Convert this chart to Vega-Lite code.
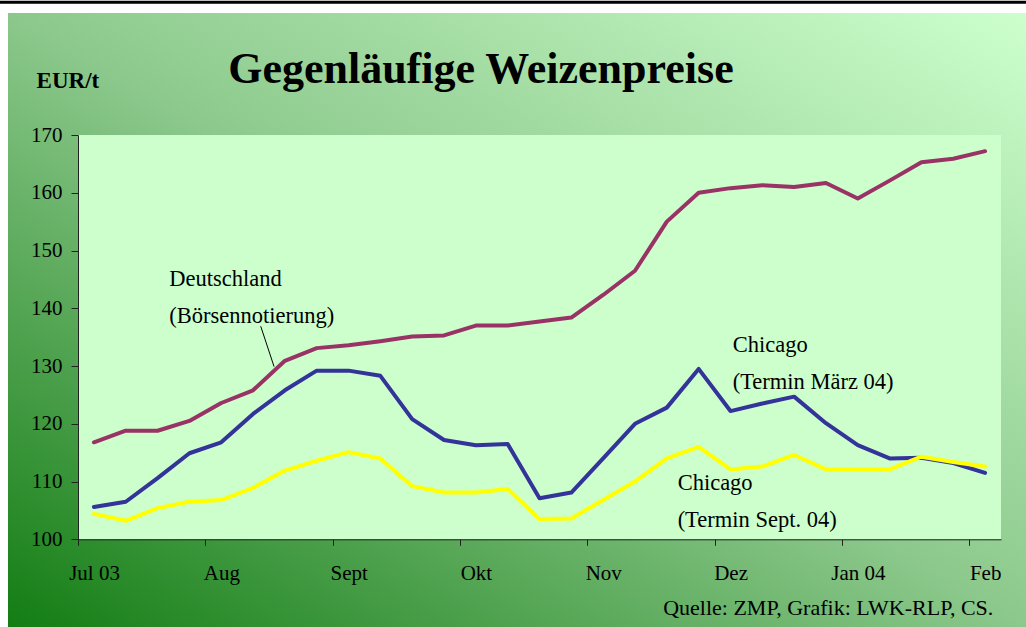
{
  "$schema": "https://vega.github.io/schema/vega-lite/v6.json",
  "width": 1018,
  "height": 614,
  "autosize": {"type": "none"},
  "padding": {"left": 8, "top": 13, "right": 0, "bottom": 0},
  "background": "white",
  "config": {
    "view": {
      "fill": {"gradient": "linear", "x1": 0, "y1": 1, "x2": 1, "y2": 0,
        "stops": [{"offset": 0, "color": "#137d13"}, {"offset": 0.5, "color": "#8cc88c"}, {"offset": 1, "color": "#ccffcc"}]},
      "stroke": null
    },
    "font": "Liberation Serif",
    "text": {"font": "Liberation Serif", "color": "black"}
  },
  "layer": [
    {
      "data": {"values": [{}]},
      "mark": {"type": "rect", "fill": "#ccffcc"},
      "encoding": {
        "x": {"datum": -0.5, "type": "quantitative"},
        "x2": {"datum": 28.5},
        "y": {"datum": 100, "type": "quantitative"},
        "y2": {"datum": 170}
      }
    },
    {
      "data": {"values": [
        {"woche": 0, "reihe": "Deutschland", "preis": 116.8},
        {"woche": 1, "reihe": "Deutschland", "preis": 118.8},
        {"woche": 2, "reihe": "Deutschland", "preis": 118.8},
        {"woche": 3, "reihe": "Deutschland", "preis": 120.5},
        {"woche": 4, "reihe": "Deutschland", "preis": 123.6},
        {"woche": 5, "reihe": "Deutschland", "preis": 125.8},
        {"woche": 6, "reihe": "Deutschland", "preis": 130.9},
        {"woche": 7, "reihe": "Deutschland", "preis": 133.1},
        {"woche": 8, "reihe": "Deutschland", "preis": 133.6},
        {"woche": 9, "reihe": "Deutschland", "preis": 134.3},
        {"woche": 10, "reihe": "Deutschland", "preis": 135.1},
        {"woche": 11, "reihe": "Deutschland", "preis": 135.3},
        {"woche": 12, "reihe": "Deutschland", "preis": 137.0},
        {"woche": 13, "reihe": "Deutschland", "preis": 137.0},
        {"woche": 14, "reihe": "Deutschland", "preis": 137.7},
        {"woche": 15, "reihe": "Deutschland", "preis": 138.4},
        {"woche": 16, "reihe": "Deutschland", "preis": 142.3},
        {"woche": 17, "reihe": "Deutschland", "preis": 146.5},
        {"woche": 18, "reihe": "Deutschland", "preis": 155.0},
        {"woche": 19, "reihe": "Deutschland", "preis": 160.0},
        {"woche": 20, "reihe": "Deutschland", "preis": 160.8},
        {"woche": 21, "reihe": "Deutschland", "preis": 161.3},
        {"woche": 22, "reihe": "Deutschland", "preis": 161.0},
        {"woche": 23, "reihe": "Deutschland", "preis": 161.7},
        {"woche": 24, "reihe": "Deutschland", "preis": 159.0},
        {"woche": 25, "reihe": "Deutschland", "preis": 162.1},
        {"woche": 26, "reihe": "Deutschland", "preis": 165.3},
        {"woche": 27, "reihe": "Deutschland", "preis": 165.9},
        {"woche": 28, "reihe": "Deutschland", "preis": 167.2},
        {"woche": 0, "reihe": "Chicago Termin März 04", "preis": 105.6},
        {"woche": 1, "reihe": "Chicago Termin März 04", "preis": 106.5},
        {"woche": 2, "reihe": "Chicago Termin März 04", "preis": 110.6},
        {"woche": 3, "reihe": "Chicago Termin März 04", "preis": 114.9},
        {"woche": 4, "reihe": "Chicago Termin März 04", "preis": 116.8},
        {"woche": 5, "reihe": "Chicago Termin März 04", "preis": 121.7},
        {"woche": 6, "reihe": "Chicago Termin März 04", "preis": 125.8},
        {"woche": 7, "reihe": "Chicago Termin März 04", "preis": 129.2},
        {"woche": 8, "reihe": "Chicago Termin März 04", "preis": 129.2},
        {"woche": 9, "reihe": "Chicago Termin März 04", "preis": 128.3},
        {"woche": 10, "reihe": "Chicago Termin März 04", "preis": 120.8},
        {"woche": 11, "reihe": "Chicago Termin März 04", "preis": 117.2},
        {"woche": 12, "reihe": "Chicago Termin März 04", "preis": 116.3},
        {"woche": 13, "reihe": "Chicago Termin März 04", "preis": 116.5},
        {"woche": 14, "reihe": "Chicago Termin März 04", "preis": 107.1},
        {"woche": 15, "reihe": "Chicago Termin März 04", "preis": 108.1},
        {"woche": 16, "reihe": "Chicago Termin März 04", "preis": 114.0},
        {"woche": 17, "reihe": "Chicago Termin März 04", "preis": 120.0},
        {"woche": 18, "reihe": "Chicago Termin März 04", "preis": 122.8},
        {"woche": 19, "reihe": "Chicago Termin März 04", "preis": 129.5},
        {"woche": 20, "reihe": "Chicago Termin März 04", "preis": 122.2},
        {"woche": 21, "reihe": "Chicago Termin März 04", "preis": 123.5},
        {"woche": 22, "reihe": "Chicago Termin März 04", "preis": 124.7},
        {"woche": 23, "reihe": "Chicago Termin März 04", "preis": 120.1},
        {"woche": 24, "reihe": "Chicago Termin März 04", "preis": 116.3},
        {"woche": 25, "reihe": "Chicago Termin März 04", "preis": 114.0},
        {"woche": 26, "reihe": "Chicago Termin März 04", "preis": 114.1},
        {"woche": 27, "reihe": "Chicago Termin März 04", "preis": 113.2},
        {"woche": 28, "reihe": "Chicago Termin März 04", "preis": 111.5},
        {"woche": 0, "reihe": "Chicago Termin Sept. 04", "preis": 104.4},
        {"woche": 1, "reihe": "Chicago Termin Sept. 04", "preis": 103.2},
        {"woche": 2, "reihe": "Chicago Termin Sept. 04", "preis": 105.4},
        {"woche": 3, "reihe": "Chicago Termin Sept. 04", "preis": 106.5},
        {"woche": 4, "reihe": "Chicago Termin Sept. 04", "preis": 106.8},
        {"woche": 5, "reihe": "Chicago Termin Sept. 04", "preis": 108.9},
        {"woche": 6, "reihe": "Chicago Termin Sept. 04", "preis": 111.9},
        {"woche": 7, "reihe": "Chicago Termin Sept. 04", "preis": 113.6},
        {"woche": 8, "reihe": "Chicago Termin Sept. 04", "preis": 115.1},
        {"woche": 9, "reihe": "Chicago Termin Sept. 04", "preis": 114.0},
        {"woche": 10, "reihe": "Chicago Termin Sept. 04", "preis": 109.2},
        {"woche": 11, "reihe": "Chicago Termin Sept. 04", "preis": 108.1},
        {"woche": 12, "reihe": "Chicago Termin Sept. 04", "preis": 108.1},
        {"woche": 13, "reihe": "Chicago Termin Sept. 04", "preis": 108.7},
        {"woche": 14, "reihe": "Chicago Termin Sept. 04", "preis": 103.5},
        {"woche": 15, "reihe": "Chicago Termin Sept. 04", "preis": 103.6},
        {"woche": 16, "reihe": "Chicago Termin Sept. 04", "preis": 106.8},
        {"woche": 17, "reihe": "Chicago Termin Sept. 04", "preis": 110.0},
        {"woche": 18, "reihe": "Chicago Termin Sept. 04", "preis": 114.0},
        {"woche": 19, "reihe": "Chicago Termin Sept. 04", "preis": 116.0},
        {"woche": 20, "reihe": "Chicago Termin Sept. 04", "preis": 112.1},
        {"woche": 21, "reihe": "Chicago Termin Sept. 04", "preis": 112.6},
        {"woche": 22, "reihe": "Chicago Termin Sept. 04", "preis": 114.6},
        {"woche": 23, "reihe": "Chicago Termin Sept. 04", "preis": 112.1},
        {"woche": 24, "reihe": "Chicago Termin Sept. 04", "preis": 112.1},
        {"woche": 25, "reihe": "Chicago Termin Sept. 04", "preis": 112.1},
        {"woche": 26, "reihe": "Chicago Termin Sept. 04", "preis": 114.3},
        {"woche": 27, "reihe": "Chicago Termin Sept. 04", "preis": 113.4},
        {"woche": 28, "reihe": "Chicago Termin Sept. 04", "preis": 112.6}
      ]},
      "mark": {"type": "line", "strokeWidth": 4, "strokeJoin": "round", "strokeCap": "round"},
      "encoding": {
        "x": {
          "field": "woche", "type": "quantitative",
          "scale": {"domain": [-0.5, 28.5], "range": [70, 993], "nice": false, "zero": false},
          "axis": {
            "values": [-0.5, 3.5, 7.5, 11.5, 15.5, 19.5, 23.5, 27.5],
            "labelExpr": "['Jul 03','Aug','Sept','Okt','Nov','Dez','Jan 04','Feb'][round((datum.value + 0.5) / 4)]",
            "labelOffset": 16, "offset": -87.7, "tickSize": 6, "labelPadding": 17,
            "labelFontSize": 21, "labelFont": "Liberation Serif", "labelColor": "black",
            "domainColor": "#222222", "tickColor": "#222222", "grid": false, "title": null,
            "zindex": 1, "labelFlush": false, "labelOverlap": false
          }
        },
        "y": {
          "field": "preis", "type": "quantitative",
          "scale": {"domain": [100, 170], "range": [526.3, 122], "nice": false, "zero": false},
          "axis": {
            "values": [100, 110, 120, 130, 140, 150, 160, 170],
            "offset": -70, "tickSize": 7, "labelPadding": 9,
            "labelFontSize": 21, "labelFont": "Liberation Serif", "labelColor": "black",
            "domainColor": "#222222", "tickColor": "#222222", "grid": false, "title": null,
            "zindex": 1, "labelFlush": false, "labelOverlap": false
          }
        },
        "color": {
          "field": "reihe", "type": "nominal",
          "scale": {"domain": ["Deutschland", "Chicago Termin März 04", "Chicago Termin Sept. 04"], "range": ["#993366", "#333399", "#ffff00"]},
          "legend": null
        }
      }
    },
    {
      "data": {"values": [{}]},
      "mark": {"type": "rule", "color": "black", "strokeWidth": 1},
      "encoding": {
        "x": {"datum": 5.24, "type": "quantitative"},
        "x2": {"datum": 5.66},
        "y": {"datum": 136.9, "type": "quantitative"},
        "y2": {"datum": 129.9}
      }
    },
    {
      "data": {"values": [{}]},
      "mark": {"type": "rule", "color": "black", "strokeWidth": 3, "clip": false},
      "encoding": {
        "x": {"datum": -3.2, "type": "quantitative"},
        "x2": {"datum": 29.5},
        "y": {"datum": 193.0, "type": "quantitative"}
      }
    },
    {
      "data": {"values": [{}]},
      "mark": {"type": "text", "text": "Gegenläufige Weizenpreise", "align": "center", "baseline": "alphabetic", "fontSize": 44, "fontWeight": "bold", "font": "Liberation Serif", "color": "black", "clip": false},
      "encoding": {"x": {"datum": 12.16, "type": "quantitative"}, "y": {"datum": 179.0, "type": "quantitative"}}
    },
    {
      "data": {"values": [{}]},
      "mark": {"type": "text", "text": "EUR/t", "align": "left", "baseline": "alphabetic", "fontSize": 23, "fontWeight": "bold", "font": "Liberation Serif", "color": "black", "clip": false},
      "encoding": {"x": {"datum": -1.8, "type": "quantitative"}, "y": {"datum": 178.1, "type": "quantitative"}}
    },
    {
      "data": {"values": [{}]},
      "mark": {"type": "text", "text": "Deutschland", "align": "left", "baseline": "alphabetic", "fontSize": 22.5, "font": "Liberation Serif", "color": "black"},
      "encoding": {"x": {"datum": 2.37, "type": "quantitative"}, "y": {"datum": 143.9, "type": "quantitative"}}
    },
    {
      "data": {"values": [{}]},
      "mark": {"type": "text", "text": "(Börsennotierung)", "align": "left", "baseline": "alphabetic", "fontSize": 22.5, "font": "Liberation Serif", "color": "black"},
      "encoding": {"x": {"datum": 2.37, "type": "quantitative"}, "y": {"datum": 137.5, "type": "quantitative"}}
    },
    {
      "data": {"values": [{}]},
      "mark": {"type": "text", "text": "Chicago", "align": "left", "baseline": "alphabetic", "fontSize": 22.5, "font": "Liberation Serif", "color": "black"},
      "encoding": {"x": {"datum": 20.07, "type": "quantitative"}, "y": {"datum": 132.5, "type": "quantitative"}}
    },
    {
      "data": {"values": [{}]},
      "mark": {"type": "text", "text": "(Termin März 04)", "align": "left", "baseline": "alphabetic", "fontSize": 22.5, "font": "Liberation Serif", "color": "black"},
      "encoding": {"x": {"datum": 20.07, "type": "quantitative"}, "y": {"datum": 126.0, "type": "quantitative"}}
    },
    {
      "data": {"values": [{}]},
      "mark": {"type": "text", "text": "Chicago", "align": "left", "baseline": "alphabetic", "fontSize": 22.5, "font": "Liberation Serif", "color": "black"},
      "encoding": {"x": {"datum": 18.34, "type": "quantitative"}, "y": {"datum": 108.5, "type": "quantitative"}}
    },
    {
      "data": {"values": [{}]},
      "mark": {"type": "text", "text": "(Termin Sept. 04)", "align": "left", "baseline": "alphabetic", "fontSize": 22.5, "font": "Liberation Serif", "color": "black"},
      "encoding": {"x": {"datum": 18.34, "type": "quantitative"}, "y": {"datum": 102.2, "type": "quantitative"}}
    },
    {
      "data": {"values": [{}]},
      "mark": {"type": "text", "text": "Quelle: ZMP, Grafik: LWK-RLP, CS.", "align": "right", "baseline": "alphabetic", "fontSize": 22, "font": "Liberation Serif", "color": "black", "clip": false},
      "encoding": {"x": {"datum": 28.26, "type": "quantitative"}, "y": {"datum": 86.9, "type": "quantitative"}}
    }
  ]
}
